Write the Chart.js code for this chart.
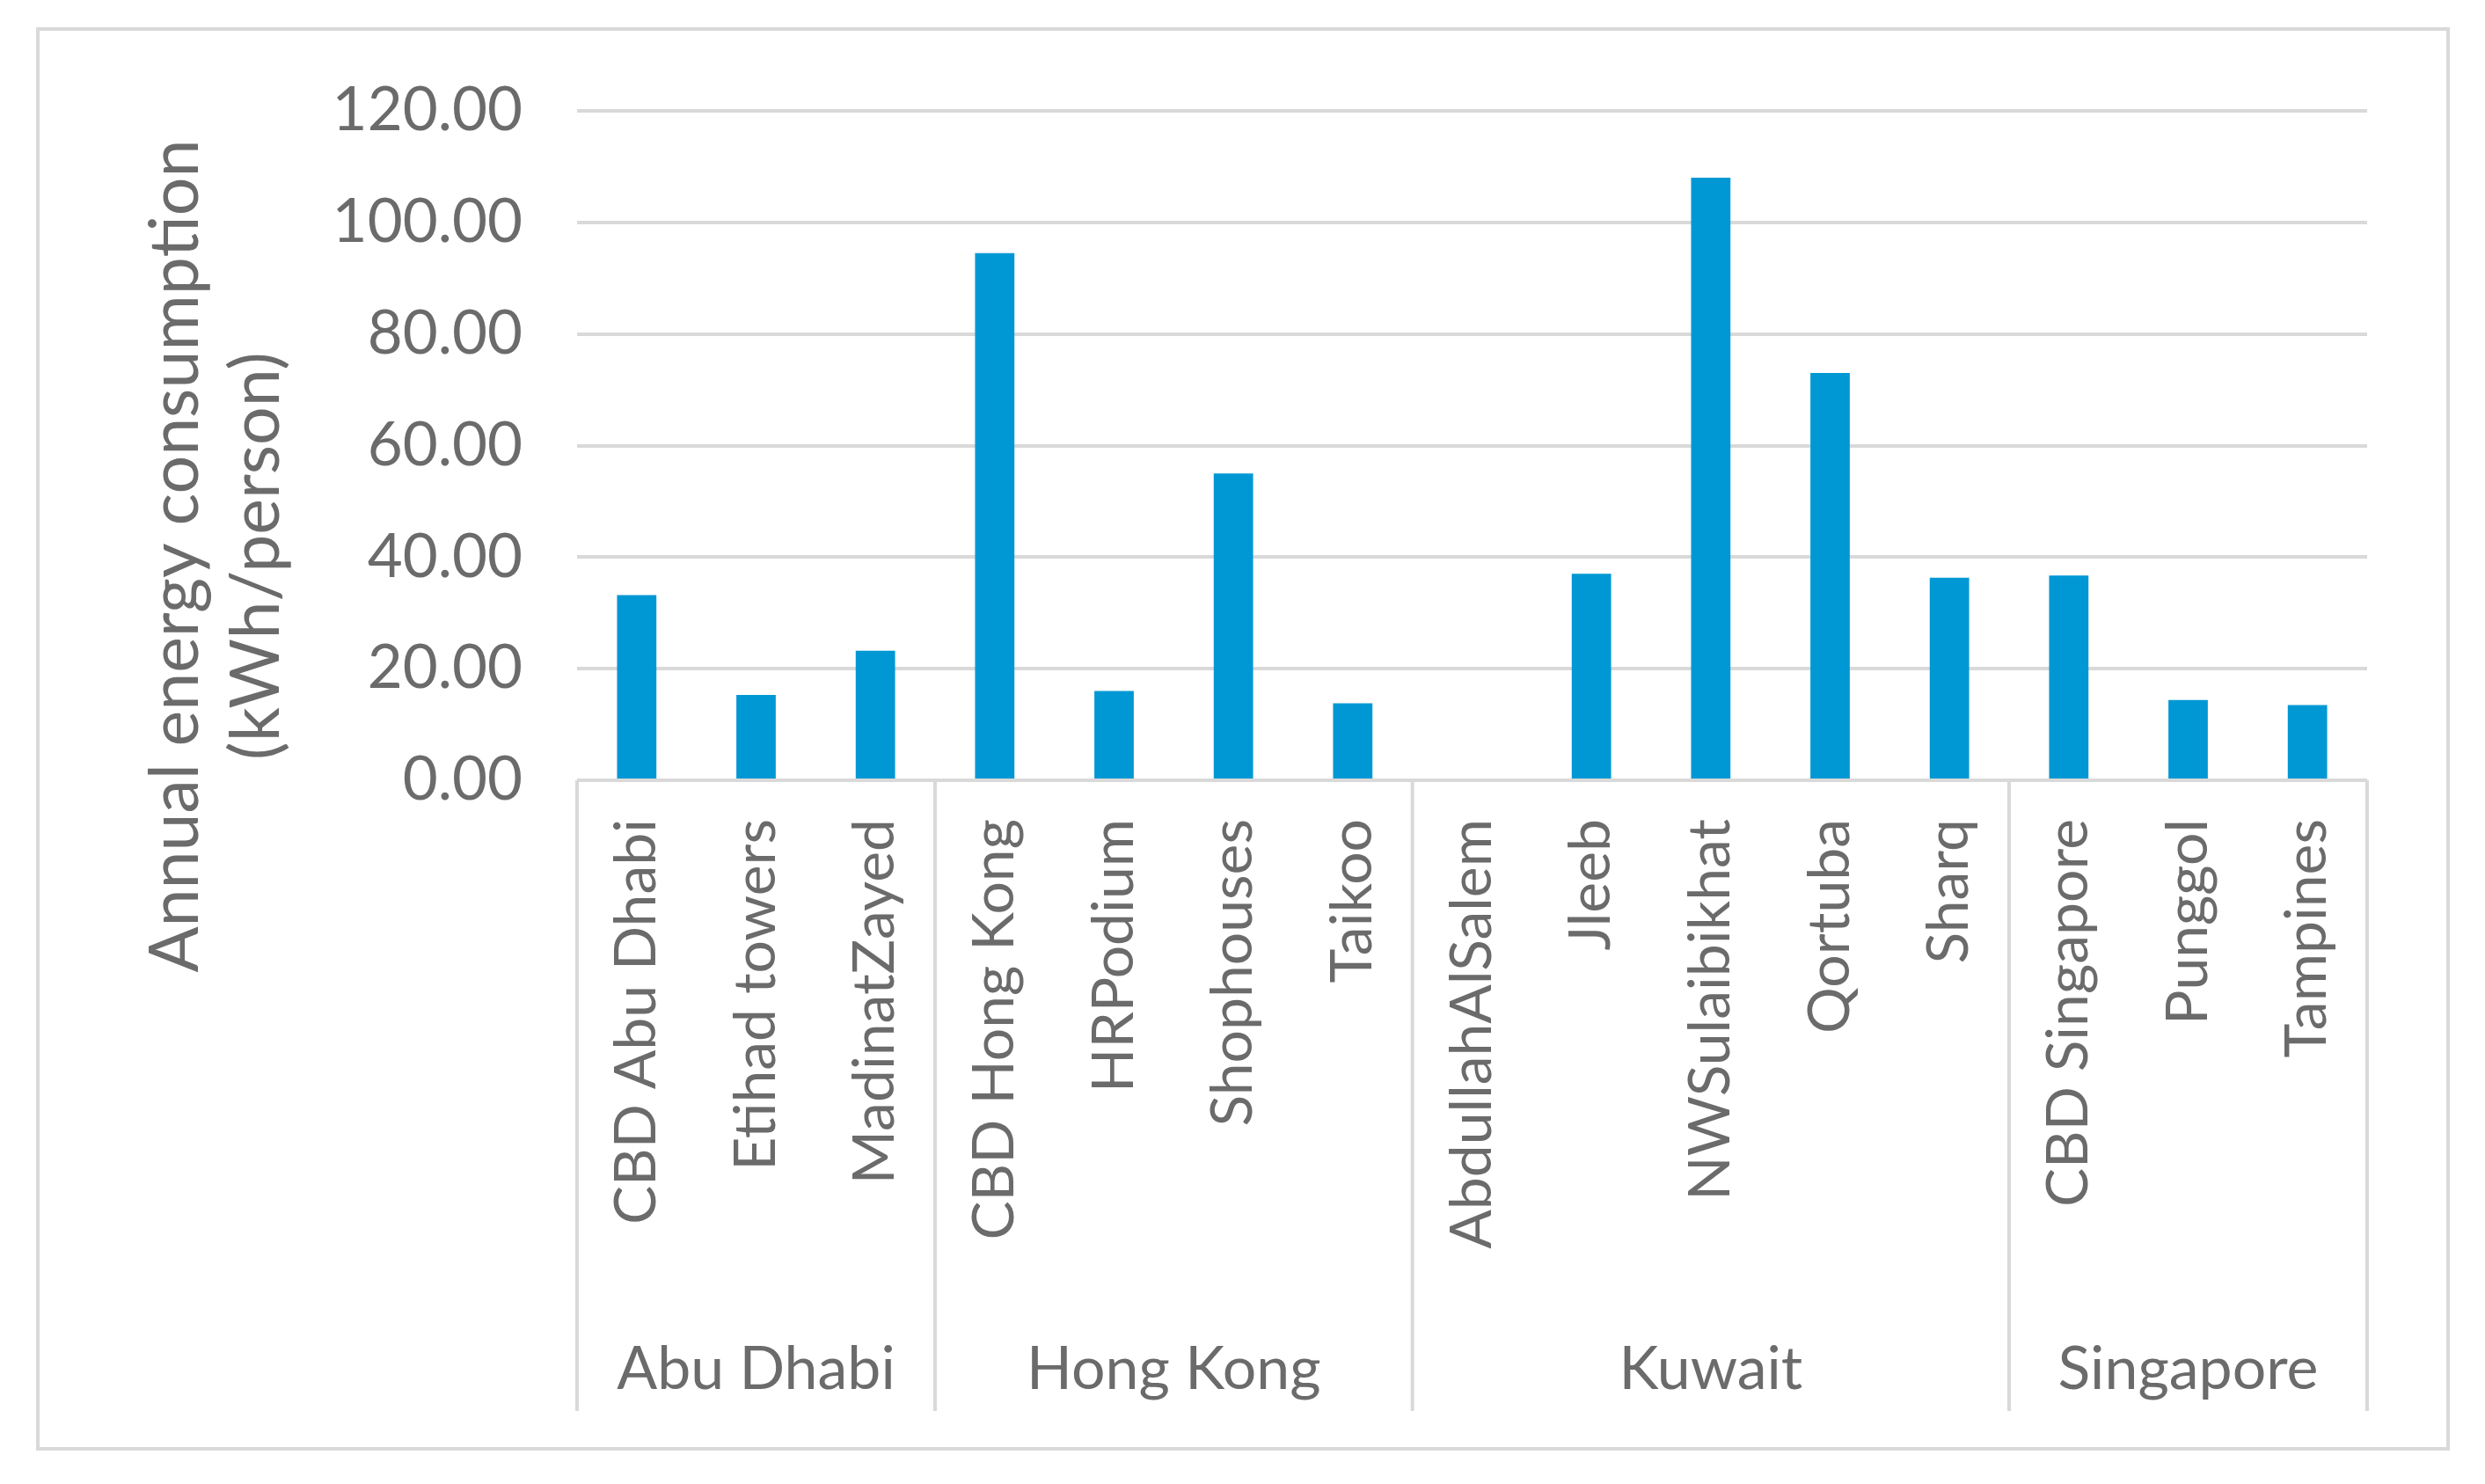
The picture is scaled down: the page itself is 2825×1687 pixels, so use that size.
<!DOCTYPE html>
<html>
<head>
<meta charset="utf-8">
<script src="https://cdn.jsdelivr.net/npm/chart.js@4/dist/chart.umd.min.js"></script>
<style>
  html, body { margin: 0; padding: 0; background: #fff; }
  #wrap { width: 2825px; height: 1687px; position: relative; }
</style>
</head>
<body>
<div id="wrap"><canvas id="c"></canvas></div>
<script>
const categories = ['CBD Abu Dhabi', 'Etihad towers', 'MadinatZayed', 'CBD Hong Kong', 'HRPodium',
  'Shophouses', 'Taikoo', 'AbdullahAlSalem', 'Jleeb', 'NWSulaibikhat', 'Qortuba', 'Sharq',
  'CBD Singapore', 'Punggol', 'Tampines'];
const energy = [33.2, 15.3, 23.2, 94.5, 16.0, 55.0, 13.8, 0, 37.0, 108.0, 73.0, 36.3, 36.7, 14.4, 13.5];
const groups = ['Abu Dhabi', 'Hong Kong', 'Kuwait', 'Singapore'];
const groupSizes = [3, 4, 5, 3];
const yTitle = ['Annual energy consumption', '(kWh/person)'];

const grey = '#6b6b6b';
const lineGrey = '#d9d9d9';

// group labels, separators, axis title and outer frame
const extras = {
  id: 'extras',
  afterDraw(chart) {
    const ctx = chart.ctx, x = chart.scales.x, y = chart.scales.y;
    const top = y.getPixelForValue(0), bottom = x.bottom;
    const step = x.getPixelForValue(1) - x.getPixelForValue(0);
    ctx.save();
    ctx.strokeStyle = lineGrey;
    ctx.lineWidth = 4;
    ctx.strokeRect(43, 33, 2740, 1614);
    let idx = 0;
    const edges = [x.getPixelForValue(0) - step / 2];
    groupSizes.forEach(n => { idx += n; edges.push(x.getPixelForValue(idx - 1) + step / 2); });
    edges.forEach(px => {
      ctx.beginPath(); ctx.moveTo(px, top); ctx.lineTo(px, bottom); ctx.stroke();
    });
    ctx.fillStyle = grey;
    ctx.font = '68px Lato';
    ctx.textAlign = 'center';
    ctx.textBaseline = 'middle';
    groups.forEach((g, i) => ctx.fillText(g, (edges[i] + edges[i + 1]) / 2, 1557));
    ctx.translate(0, 632);
    ctx.rotate(-Math.PI / 2);
    ctx.font = '77px Lato';
    ctx.fillText(yTitle[0], 0, 200);
    ctx.fillText(yTitle[1], 0, 292);
    ctx.restore();
  }
};

new Chart(document.getElementById('c'), {
  type: 'bar',
  data: {
    labels: categories,
    datasets: [{ data: energy, backgroundColor: '#0098D4', barPercentage: 0.33, categoryPercentage: 1 }]
  },
  options: {
    responsive: true,
    maintainAspectRatio: false,
    animation: false,
    layout: { padding: { left: 43, top: 126, right: 134, bottom: 83 } },
    plugins: { legend: { display: false }, tooltip: { enabled: false } },
    scales: {
      y: {
        min: 0, max: 120,
        ticks: { stepSize: 20, color: grey, font: { size: 69, family: 'Lato' }, padding: 62,
          callback: v => v.toFixed(2) },
        grid: { color: lineGrey, lineWidth: 4, drawTicks: false },
        border: { display: false },
        afterFit(s) { s.width = 613; }
      },
      x: {
        ticks: { color: grey, font: { size: 66, family: 'Lato' }, minRotation: 90, maxRotation: 90,
          autoSkip: false, padding: 36 },
        grid: { display: false },
        border: { display: false },
        afterFit(s) { s.height = 717; }
      }
    }
  },
  plugins: [extras]
});
</script>
</body>
</html>
